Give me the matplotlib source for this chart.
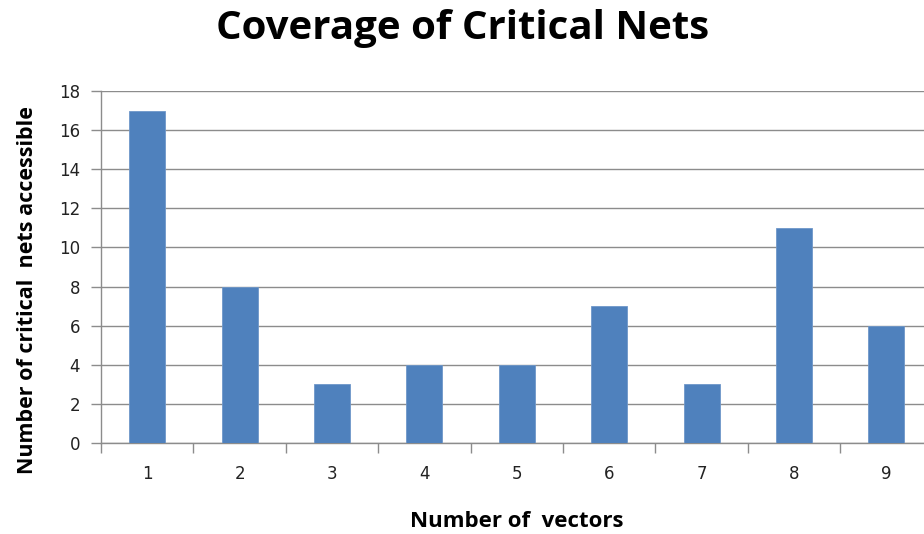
import matplotlib
matplotlib.use("Agg")
import matplotlib.pyplot as plt
import numpy as np

vectors = [1, 2, 3, 4, 5, 6, 7, 8, 9]
critical_nets = [17, 8, 3, 4, 4, 7, 3, 11, 6]
y_ticks = [0, 2, 4, 6, 8, 10, 12, 14, 16, 18]

bar_color = "#4F81BD"
grid_color = "#8C8C8C"

fig = plt.figure(figsize=(9.24, 5.34), dpi=100)
ax = fig.add_axes([101 / 924, 91 / 534, 831.5 / 924, 352 / 534])

x = np.array(vectors)
ax.bar(x, critical_nets, width=0.39, color=bar_color, edgecolor="#6F97C9",
       linewidth=0.6, zorder=3)

ax.set_xlim(0.5, 9.5)
ax.set_ylim(0, 18)

ax.set_yticks(y_ticks)
ax.yaxis.grid(True, color=grid_color, linewidth=1.0, zorder=0)
ax.tick_params(axis="y", length=7, width=1.0, color=grid_color, labelsize=12,
               pad=8, labelcolor="#222222")

# category boundaries carry the tick marks, centers carry the labels
ax.set_xticks(np.arange(0.5, 10.5, 1.0))
ax.set_xticklabels([])
ax.set_xticks(x, minor=True)
ax.set_xticklabels([str(v) for v in vectors], minor=True)
ax.tick_params(axis="x", which="major", length=7, width=1.0, color=grid_color)
ax.tick_params(axis="x", which="minor", length=0, labelsize=12, pad=16,
               labelcolor="#222222")

for side in ("top", "right"):
    ax.spines[side].set_visible(False)
for side in ("left", "bottom"):
    ax.spines[side].set_color(grid_color)
    ax.spines[side].set_linewidth(1.0)

ax.set_xlabel("Number of  vectors", fontsize=16, fontweight="bold",
              family="Open Sans", labelpad=20)
ax.set_ylabel("Number of critical  nets accessible", fontsize=15.5,
              fontweight="bold", family="Open Sans")
ax.yaxis.set_label_coords(-63 / 831.5, (443 - 290) / 352)

fig.text(463 / 924, 1 - 28 / 534, "Coverage of Critical Nets", ha="center",
         va="center", fontsize=29, fontweight="bold", family="Open Sans")

fig.savefig("out.png", dpi=100)
